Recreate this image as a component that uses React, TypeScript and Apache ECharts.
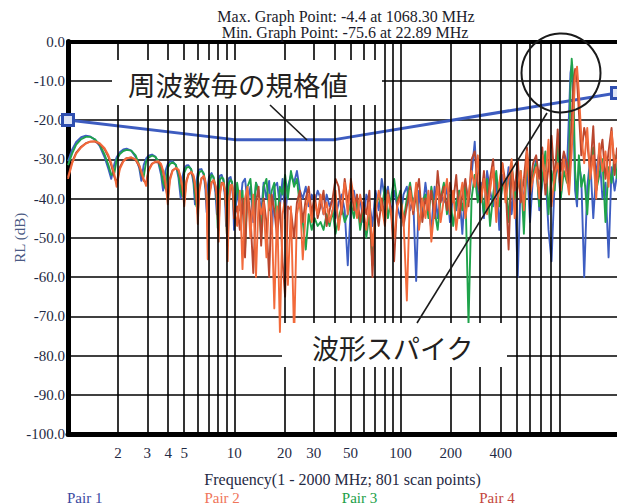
import React, { useEffect, useRef } from "react";
import * as echarts from "echarts";

// ---------- data ----------
const LOW_FREQ = [
  1.0, 1.06, 1.12, 1.2, 1.28, 1.36, 1.45, 1.55, 1.66, 1.75,
  1.82, 1.9, 1.96, 2.05, 2.15, 2.25, 2.4, 2.55, 2.68, 2.76,
  2.85, 2.95, 3.05, 3.2, 3.35, 3.5, 3.63, 3.73, 3.85, 3.98,
  4.1, 4.25, 4.45, 4.62, 4.76, 4.88, 5.0, 5.15, 5.3, 5.5,
  5.68, 5.8, 5.92, 6.03, 6.15, 6.35, 6.55, 6.7, 6.82, 6.92,
  7.05, 7.3, 7.5, 7.7, 7.85, 7.95, 8.05, 8.2, 8.4, 8.6,
  8.8, 8.92, 9.02, 9.12, 9.3, 9.5, 9.7, 9.85, 9.96,
];
const HIGH_FREQ = [
  10.4, 10.8, 11.2, 11.6, 12.0, 12.5, 13.0, 13.5, 14.0, 14.5,
  15.0, 15.6, 16.2, 16.8, 17.4, 18.1, 18.8, 19.5, 20.2, 21.0,
  21.9, 22.89, 23.8, 24.8, 25.8, 26.9, 28.0, 29.2, 30.4, 31.7,
  33.0, 34.4, 35.9, 37.4, 39.0, 40.6, 42.4, 44.2, 46.1, 48.1,
  50.2, 52.4, 54.7, 57.1, 59.6, 62.2, 64.9, 67.7, 70.7, 73.8,
  77.0, 80.4, 83.9, 87.6, 91.4, 95.4, 99.6, 104, 109, 114,
  119, 124, 129, 135, 141, 147, 153, 160, 167, 174,
  182, 190, 198, 207, 216, 225, 235, 245, 256, 267,
  279, 291, 304, 317, 331, 345, 360, 376, 392, 409,
  427, 446, 465, 485, 506, 528, 551, 575, 600, 626,
  653, 682, 711, 742, 775, 808, 843, 880, 918, 958,
  1000, 1030, 1050, 1068.3, 1090, 1120, 1150, 1180, 1220, 1270,
  1325, 1380, 1440, 1500, 1565, 1635, 1705, 1780, 1855, 1935,
  2000,
];

const PAIR1_LOW = [
  -30.5, -27.5, -25.6, -24.4, -24.0, -24.2, -25.0, -26.6, -29.5, -32.5,
  -35.0, -31.2, -29.5, -28.2, -27.5, -27.3, -27.8, -29.4, -32.2, -35.5,
  -31.5, -29.8, -29.1, -28.8, -29.3, -31.0, -34.0, -38.0, -33.0, -31.2,
  -30.6, -30.5, -31.5, -34.8, -40.0, -34.5, -32.5, -31.6, -31.5, -32.6,
  -36.0, -41.5, -35.5, -33.5, -32.6, -32.5, -34.0, -37.5, -43.5, -37.0,
  -34.5, -33.5, -34.8, -38.5, -44.0, -38.0, -35.5, -34.2, -34.0, -35.5,
  -40.0, -47.0, -39.5, -36.5, -34.8, -34.5, -36.5, -41.0, -48.0,
];
const PAIR1_HIGH = [
  -38, -43, -36, -35, -41, -37, -46, -36, -38, -44,
  -36, -40, -35.5, -49, -37, -36, -42, -35, -45, -37,
  -34, -36, -33, -38, -40, -37, -42, -39, -41, -38,
  -40, -44, -39, -42, -40, -45, -41, -39, -43, -57,
  -42, -38, -44, -40, -46, -39, -41, -47, -38, -43,
  -35, -40, -37, -44, -38, -42, -45, -39, -37, -43,
  -40, -61, -38, -44, -36, -42, -48, -37, -45, -39,
  -41, -37, -46, -39, -43, -38, -49, -36, -41, -34,
  -25.5, -40, -36, -45, -33, -38, -42, -35, -48, -34,
  -39, -32, -44, -36, -60, -35, -41, -31, -46, -34,
  -30, -43, -36, -33, -48, -56, -36, -31, -40, -29,
  -33, -18, -8, -6, -14, -38, -42, -31, -35, -60,
  -37, -30, -45, -33, -28, -40, -36, -55, -32, -38,
  -34,
];

const PAIR2_LOW = [
  -35.0, -31.0, -28.6, -27.0, -26.0, -25.5, -25.4, -25.9, -27.2, -29.0,
  -31.0, -33.8, -37.0, -32.5, -30.6, -29.8, -29.5, -30.0, -31.5, -33.0,
  -35.0, -36.8, -33.0, -31.3, -30.6, -30.5, -31.2, -32.8, -35.5, -41.5,
  -35.5, -33.0, -32.2, -32.6, -34.5, -37.0, -42.0, -36.0, -34.0, -33.2,
  -34.0, -36.0, -39.0, -46.5, -38.5, -35.0, -34.2, -35.5, -39.5, -55.5,
  -40.0, -36.0, -35.2, -36.5, -39.0, -43.0, -51.0, -39.0, -36.2, -36.0,
  -38.0, -41.5, -46.0, -56.0, -41.0, -36.8, -36.5, -38.5, -42.0,
];
const PAIR2_HIGH = [
  -47, -38, -58, -40, -37, -50, -39, -60, -40, -44,
  -41, -55, -39, -45, -68, -42, -74, -44, -40, -62,
  -42, -75.6, -44, -40, -55.5, -43, -39, -46, -41, -44,
  -39, -44, -41, -46, -43, -38, -48, -42, -36, -44,
  -35, -40, -45, -39, -43, -48, -41, -52, -44, -38,
  -42, -47, -39, -44, -50, -42, -40, -45, -66, -38,
  -43, -36, -48, -40, -45, -38, -51, -42, -37, -46,
  -40, -35, -44, -38, -48, -41, -36, -45, -39, -33,
  -37, -29, -41, -35, -44, -38, -32, -46, -36, -31,
  -41, -35, -30, -45, -37, -33, -43, -28, -39, -35,
  -32, -40, -29, -36, -25, -42, -34, -31, -38, -30,
  -35, -39, -33, -28, -20, -9, -6.4, -13, -24, -31,
  -22, -35, -29, -40, -26, -33, -28, -37, -23, -31,
  -30,
];

const PAIR3_LOW = [
  -31.5, -28.5, -26.3, -24.9, -24.3, -24.3, -24.9, -26.3, -28.8, -31.5,
  -34.0, -33.5, -30.2, -28.7, -27.9, -27.6, -27.8, -29.0, -31.5, -34.0,
  -34.5, -30.6, -29.6, -29.1, -29.4, -30.6, -33.0, -36.0, -37.5, -32.2,
  -31.2, -30.8, -31.4, -33.8, -38.0, -39.5, -33.5, -32.2, -31.9, -32.5,
  -35.0, -39.0, -42.0, -35.0, -33.4, -32.9, -33.6, -36.0, -40.0, -45.0,
  -36.5, -34.0, -34.5, -37.0, -41.0, -47.5, -38.5, -35.2, -34.6, -35.0,
  -38.0, -43.0, -49.0, -40.0, -36.0, -35.2, -35.8, -39.0, -44.0,
];
const PAIR3_HIGH = [
  -36, -41, -38, -53, -37, -35, -44, -36, -39, -50,
  -37, -35, -43, -38, -36, -47, -37, -39, -34, -40,
  -33, -37, -35, -42, -46, -53, -44, -48, -45, -47,
  -46, -48, -44, -47, -43, -49, -45, -42, -46, -44,
  -41, -45, -40, -48, -43, -50, -44, -57, -42, -39,
  -43, -37, -45, -40, -35, -41, -38, -46, -40, -36,
  -42, -38, -47, -41, -39, -45, -37, -43, -48, -40,
  -36, -44, -39, -47, -41, -38, -43, -37, -72, -40,
  -34, -41, -37, -44, -35, -47, -39, -33, -42, -37,
  -35, -46, -31, -40, -37, -33, -49, -29, -38, -34,
  -31, -42, -35, -28, -44, -33, -38, -26, -40, -33,
  -36, -30, -12, -4.4, -9, -33, -40, -29, -37, -34,
  -44, -31, -27, -38, -34, -30, -46, -32, -36, -29,
  -35,
];

const PAIR4_LOW = [
  -34.5, -30.6, -28.3, -26.8, -25.9, -25.5, -25.5, -26.1, -27.5, -29.4,
  -31.5, -34.5, -36.0, -32.0, -30.4, -29.7, -29.6, -30.2, -31.8, -33.5,
  -35.5, -36.0, -32.6, -31.1, -30.7, -30.8, -31.6, -33.3, -36.5, -40.0,
  -34.8, -32.8, -32.3, -32.9, -35.0, -38.0, -40.5, -35.5, -33.8, -33.4,
  -34.4, -36.8, -40.5, -44.0, -37.5, -34.8, -34.5, -36.0, -40.5, -50.0,
  -39.0, -35.8, -35.5, -37.0, -40.0, -45.0, -48.0, -38.2, -36.0, -36.3,
  -38.6, -43.0, -49.0, -52.0, -40.0, -36.6, -37.0, -39.5, -45.0,
];
const PAIR4_HIGH = [
  -42, -48, -40, -55, -38, -44, -59, -41, -37, -52,
  -40, -46, -60, -39, -43, -50, -41, -56, -65, -42,
  -43, -50, -41, -38, -46, -40, -37, -44, -39, -45,
  -42, -38, -47, -43, -40, -35, -37, -44, -35, -41,
  -36, -43, -39, -46, -41, -44, -38, -60, -42, -47,
  -40, -45, -38, -43, -56, -41, -39, -47, -42, -37,
  -44, -39, -35, -46, -40, -43, -38, -45, -33, -41,
  -37, -43, -36, -41, -34, -45, -39, -35, -42, -30,
  -28, -36, -40, -33, -42, -35, -30, -44, -37, -31,
  -36, -53, -32, -38, -30, -41, -35, -27, -37, -31,
  -29, -35, -27, -39, -32, -24, -36, -22.4, -33, -28,
  -31, -37, -26, -20, -12, -7, -10, -18, -29, -22,
  -26, -33, -21.6, -38, -30, -25, -35, -28, -22, -34,
  -27,
];

// limit line (spec value per frequency)
const LIMIT_FREQ = [1, 10, 40, 2000];
const LIMIT_DB = [-20, -25, -25, -13.1];

// axes
const GRID_FREQ = [
  2, 3, 4, 5, 6, 7, 8, 9, 10, 20, 30, 40, 50, 60, 70, 80, 90,
  100, 200, 300, 400, 500, 600, 700, 800, 900,
];
const X_LABELS = [2, 3, 4, 5, 10, 20, 30, 50, 100, 200, 400];
const SERIES_NAMES = ["Pair 1", "Pair 2", "Pair 3", "Pair 4"];
const LINE_COLORS = ["#3e5ec2", "#f26a3b", "#1fa34b", "#b9462e"];
const LEGEND_COLORS = ["#3b4aa2", "#f0755a", "#20a048", "#c4463c"];

const TITLE_LINES = [
  "Max. Graph Point: -4.4 at 1068.30 MHz",
  "Min. Graph Point: -75.6 at 22.89 MHz",
];
const X_NAME = "Frequency(1 - 2000 MHz; 801 scan points)";
const Y_NAME = "RL (dB)";
const NOTE_LIMIT = "周波数毎の規格値";
const NOTE_SPIKE = "波形スパイク";

// ---------- chart ----------
const FREQ_MHZ = [...LOW_FREQ, ...HIGH_FREQ];
const PAIR_VALUES = [
  [...PAIR1_LOW, ...PAIR1_HIGH],
  [...PAIR2_LOW, ...PAIR2_HIGH],
  [...PAIR3_LOW, ...PAIR3_HIGH],
  [...PAIR4_LOW, ...PAIR4_HIGH],
];

const SERIF = '"Liberation Serif", "Times New Roman", serif';
const CJK = '"Noto Sans CJK JP", "Noto Sans CJK SC", sans-serif';
const LABEL_COLOR = "#1f2a44";

function buildOption() {
  const pairSeries = SERIES_NAMES.map((name, k) => ({
    type: "line",
    name,
    data: FREQ_MHZ.map((f, i) => [f, PAIR_VALUES[k][i]]),
    symbol: "none",
    showSymbol: false,
    lineStyle: { width: 1.9, color: LINE_COLORS[k], join: "round" },
    itemStyle: { color: LINE_COLORS[k] },
    emphasis: { disabled: true },
    silent: true,
    z: 3,
  }));
  // draw order: blue, green, brick, orange (orange on top)
  const ordered = [pairSeries[0], pairSeries[2], pairSeries[3], pairSeries[1]];

  const limitData = LIMIT_FREQ.map((f, i) => {
    const end = i === 0 || i === LIMIT_FREQ.length - 1;
    return end ? { value: [f, LIMIT_DB[i]] } : { value: [f, LIMIT_DB[i]], symbol: "none" };
  });

  return {
    animation: false,
    backgroundColor: "#ffffff",
    grid: { left: 68, right: 0, top: 41.5, bottom: 70, containLabel: false, outerBoundsMode: "none" },
    xAxis: [
      {
        type: "log",
        logBase: 10,
        min: 1,
        max: 2000,
        position: "bottom",
        axisLine: { show: true, onZero: false, lineStyle: { color: "#000", width: 5 } },
        axisTick: { show: false },
        minorTick: { show: false },
        splitLine: { show: false },
        axisLabel: {
          customValues: X_LABELS,
          formatter: (v: number) => String(Math.round(v)),
          fontFamily: SERIF,
          fontSize: 15,
          color: LABEL_COLOR,
          margin: 11,
        },
        name: X_NAME,
        nameLocation: "middle",
        nameGap: 37,
        nameMoveOverlap: false,
        nameTextStyle: { fontFamily: SERIF, fontSize: 16, color: LABEL_COLOR },
      },
      {
        type: "log",
        logBase: 10,
        min: 1,
        max: 2000,
        position: "top",
        axisLine: { show: true, onZero: false, lineStyle: { color: "#000", width: 4 } },
        axisTick: { show: false },
        axisLabel: { show: false },
        splitLine: { show: false },
      },
    ],
    yAxis: {
      type: "value",
      min: -100,
      max: 0,
      interval: 10,
      axisLine: { show: true, onZero: false, lineStyle: { color: "#000", width: 5 } },
      axisTick: { show: false },
      splitLine: { show: true, lineStyle: { color: "#000", width: 1.6 } },
      axisLabel: {
        formatter: (v: number) => v.toFixed(1),
        fontFamily: SERIF,
        fontSize: 15,
        color: LABEL_COLOR,
        margin: 3,
      },
      name: Y_NAME,
      nameLocation: "middle",
      nameGap: 41,
      nameMoveOverlap: false,
      nameTextStyle: { fontFamily: SERIF, fontSize: 15, color: "#4b5a84" },
    },
    legend: {
      show: true,
      left: 61,
      top: 490,
      padding: 0,
      itemWidth: 0,
      itemHeight: 0,
      itemGap: 96,
      selectedMode: false,
      textStyle: { fontFamily: SERIF, fontSize: 15 },
      data: SERIES_NAMES.map((name, k) => ({ name, textStyle: { color: LEGEND_COLORS[k] } })),
    },
    series: [
      {
        type: "line",
        name: "gridlines",
        data: [],
        silent: true,
        z: 1,
        markLine: {
          silent: true,
          symbol: ["none", "none"],
          label: { show: false },
          emphasis: { disabled: true },
          lineStyle: { color: "#000", width: 1.6, type: "solid" },
          data: GRID_FREQ.map((f) => ({ xAxis: f })),
        },
      },
      {
        type: "line",
        name: "limit",
        data: limitData,
        symbol: "rect",
        symbolSize: 11,
        showSymbol: true,
        clip: false,
        silent: true,
        lineStyle: { color: "#3d5cc0", width: 3 },
        itemStyle: { color: "#dfe6f6", borderColor: "#2f4fb0", borderWidth: 3 },
        emphasis: { disabled: true },
        z: 2,
      },
      ...ordered,
    ],
    graphic: [
      {
        type: "text",
        x: 346,
        y: 16,
        z: 100,
        style: {
          text: TITLE_LINES[0],
          font: `16px ${SERIF}`,
          fill: "#1b1b2a",
          textAlign: "center",
          textVerticalAlign: "middle",
          align: "center",
          verticalAlign: "middle",
        },
      },
      {
        type: "text",
        x: 345,
        y: 32,
        z: 100,
        style: {
          text: TITLE_LINES[1],
          font: `16px ${SERIF}`,
          fill: "#1b1b2a",
          textAlign: "center",
          textVerticalAlign: "middle",
          align: "center",
          verticalAlign: "middle",
        },
      },
      {
        type: "rect",
        z: 100,
        shape: { x: 112, y: 60, width: 270, height: 45 },
        style: { fill: "#ffffff" },
      },
      {
        type: "text",
        x: 128,
        y: 84,
        z: 101,
        style: {
          text: NOTE_LIMIT,
          font: `27.5px ${CJK}`,
          fill: "#231f20",
          textAlign: "left",
          textVerticalAlign: "middle",
          align: "left",
          verticalAlign: "middle",
        },
      },
      {
        type: "line",
        z: 101,
        shape: { x1: 270, y1: 105, x2: 307, y2: 140 },
        style: { stroke: "#1a1a1a", lineWidth: 1.6 },
      },
      {
        type: "rect",
        z: 100,
        shape: { x: 282, y: 323, width: 225, height: 44 },
        style: { fill: "#ffffff" },
      },
      {
        type: "text",
        x: 312,
        y: 347,
        z: 101,
        style: {
          text: NOTE_SPIKE,
          font: `27px ${CJK}`,
          fill: "#231f20",
          textAlign: "left",
          textVerticalAlign: "middle",
          align: "left",
          verticalAlign: "middle",
        },
      },
      {
        type: "line",
        z: 101,
        shape: { x1: 417, y1: 323, x2: 547, y2: 113 },
        style: { stroke: "#1a1a1a", lineWidth: 1.6 },
      },
      {
        type: "circle",
        z: 101,
        shape: { cx: 561, cy: 73, r: 39.5 },
        style: { fill: "none", stroke: "#1a1a1a", lineWidth: 2 },
      },
    ],
  };
}

export default function App() {
  const ref = useRef<HTMLDivElement>(null);
  useEffect(() => {
    if (!ref.current) return;
    const chart = echarts.init(ref.current, null, { renderer: "svg" });
    chart.setOption(buildOption() as any);
    return () => {
      chart.dispose();
    };
  }, []);
  return (
    <div
      ref={ref}
      style={{ position: "fixed", left: 0, top: 0, width: 617, height: 504, background: "#fff" }}
    />
  );
}
